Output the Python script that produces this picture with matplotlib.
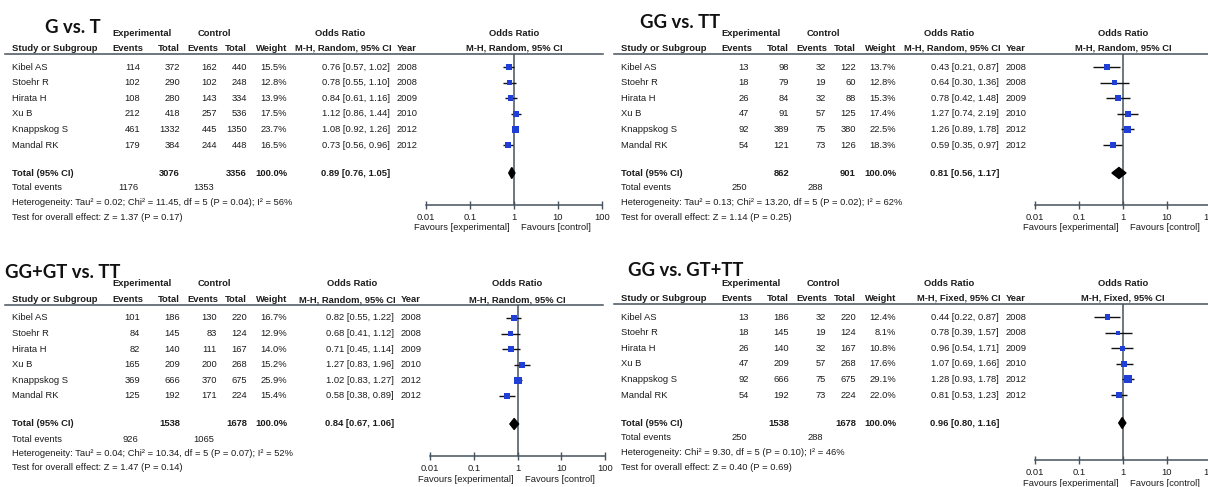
import matplotlib
matplotlib.use("Agg")
import matplotlib.pyplot as plt
import numpy as np

plt.rcParams['font.family'] = ['Liberation Sans', 'DejaVu Sans']

studies = ["Kibel AS", "Stoehr R", "Hirata H", "Xu B", "Knappskog S", "Mandal RK"]
years = [2008, 2008, 2009, 2010, 2012, 2012]

# G vs. T
gt_exp_events = [114, 102, 108, 212, 461, 179]
gt_exp_total = [372, 290, 280, 418, 1332, 384]
gt_ctl_events = [162, 102, 143, 257, 445, 244]
gt_ctl_total = [440, 248, 334, 536, 1350, 448]
gt_weight = [15.5, 12.8, 13.9, 17.5, 23.7, 16.5]
gt_or = [0.76, 0.78, 0.84, 1.12, 1.08, 0.73]
gt_lo = [0.57, 0.55, 0.61, 0.86, 0.92, 0.56]
gt_hi = [1.02, 1.10, 1.16, 1.44, 1.26, 0.96]
gt_sum = [3076, 3356, 0.89, 0.76, 1.05]
gt_events = [1176, 1353]
gt_het = "Heterogeneity: Tau² = 0.02; Chi² = 11.45, df = 5 (P = 0.04); I² = 56%"
gt_test = "Test for overall effect: Z = 1.37 (P = 0.17)"

# GG vs. TT
ggtt_exp_events = [13, 18, 26, 47, 92, 54]
ggtt_exp_total = [98, 79, 84, 91, 389, 121]
ggtt_ctl_events = [32, 19, 32, 57, 75, 73]
ggtt_ctl_total = [122, 60, 88, 125, 380, 126]
ggtt_weight = [13.7, 12.8, 15.3, 17.4, 22.5, 18.3]
ggtt_or = [0.43, 0.64, 0.78, 1.27, 1.26, 0.59]
ggtt_lo = [0.21, 0.30, 0.42, 0.74, 0.89, 0.35]
ggtt_hi = [0.87, 1.36, 1.48, 2.19, 1.78, 0.97]
ggtt_sum = [862, 901, 0.81, 0.56, 1.17]
ggtt_events = [250, 288]
ggtt_het = "Heterogeneity: Tau² = 0.13; Chi² = 13.20, df = 5 (P = 0.02); I² = 62%"
ggtt_test = "Test for overall effect: Z = 1.14 (P = 0.25)"

# GG+GT vs. TT
dom_exp_events = [101, 84, 82, 165, 369, 125]
dom_exp_total = [186, 145, 140, 209, 666, 192]
dom_ctl_events = [130, 83, 111, 200, 370, 171]
dom_ctl_total = [220, 124, 167, 268, 675, 224]
dom_weight = [16.7, 12.9, 14.0, 15.2, 25.9, 15.4]
dom_or = [0.82, 0.68, 0.71, 1.27, 1.02, 0.58]
dom_lo = [0.55, 0.41, 0.45, 0.83, 0.83, 0.38]
dom_hi = [1.22, 1.12, 1.14, 1.96, 1.27, 0.89]
dom_sum = [1538, 1678, 0.84, 0.67, 1.06]
dom_events = [926, 1065]
dom_het = "Heterogeneity: Tau² = 0.04; Chi² = 10.34, df = 5 (P = 0.07); I² = 52%"
dom_test = "Test for overall effect: Z = 1.47 (P = 0.14)"

# GG vs. GT+TT
rec_exp_events = [13, 18, 26, 47, 92, 54]
rec_exp_total = [186, 145, 140, 209, 666, 192]
rec_ctl_events = [32, 19, 32, 57, 75, 73]
rec_ctl_total = [220, 124, 167, 268, 675, 224]
rec_weight = [12.4, 8.1, 10.8, 17.6, 29.1, 22.0]
rec_or = [0.44, 0.78, 0.96, 1.07, 1.28, 0.81]
rec_lo = [0.22, 0.39, 0.54, 0.69, 0.93, 0.53]
rec_hi = [0.87, 1.57, 1.71, 1.66, 1.78, 1.23]
rec_sum = [1538, 1678, 0.96, 0.80, 1.16]
rec_events = [250, 288]
rec_het = "Heterogeneity: Chi² = 9.30, df = 5 (P = 0.10); I² = 46%"
rec_test = "Test for overall effect: Z = 0.40 (P = 0.69)"

tick_vals = [0.01, 0.1, 1, 10, 100]
tick_labels = ["0.01", "0.1", "1", "10", "100"]

W, H = 1208, 487
FS = 6.75
TXT = "#1c1c1c"
LINE = "#46525e"
BLUE = "#1f3fd6"

panels = [
    dict(title="G vs. T", method="M-H, Random, 95% CI", ox=0, oy=0, tx=45, ty=33,
         f0=426, f1=602, axis_y=204.5, orx=0,
         ee=gt_exp_events, et=gt_exp_total, ce=gt_ctl_events, ct=gt_ctl_total,
         w=gt_weight, orr=gt_or, lo=gt_lo, hi=gt_hi, tot=gt_sum, ev=gt_events,
         het=gt_het, test=gt_test),
    dict(title="GG vs. TT", method="M-H, Random, 95% CI", ox=609, oy=0, tx=640, ty=28,
         f0=1035, f1=1211, axis_y=205, orx=0,
         ee=ggtt_exp_events, et=ggtt_exp_total, ce=ggtt_ctl_events, ct=ggtt_ctl_total,
         w=ggtt_weight, orr=ggtt_or, lo=ggtt_lo, hi=ggtt_hi, tot=ggtt_sum, ev=ggtt_events,
         het=ggtt_het, test=ggtt_test),
    dict(title="GG+GT vs. TT", method="M-H, Random, 95% CI", ox=0, oy=251, tx=5, ty=278,
         f0=430, f1=605, axis_y=456, orx=4,
         ee=dom_exp_events, et=dom_exp_total, ce=dom_ctl_events, ct=dom_ctl_total,
         w=dom_weight, orr=dom_or, lo=dom_lo, hi=dom_hi, tot=dom_sum, ev=dom_events,
         het=dom_het, test=dom_test),
    dict(title="GG vs. GT+TT", method="M-H, Fixed, 95% CI", ox=609, oy=250, tx=628, ty=276,
         f0=1035, f1=1211, axis_y=460, orx=0,
         ee=rec_exp_events, et=rec_exp_total, ce=rec_ctl_events, ct=rec_ctl_total,
         w=rec_weight, orr=rec_or, lo=rec_lo, hi=rec_hi, tot=rec_sum, ev=rec_events,
         het=rec_het, test=rec_test),
]

fig = plt.figure(figsize=(W / 100, H / 100), dpi=100)
tax = fig.add_axes([0, 0, 1, 1])
tax.set_xlim(0, W)
tax.set_ylim(H, 0)
tax.axis("off")


def t(x, y, s, ha="left", bold=False, size=FS, **kw):
    tax.text(x, y, s, ha=ha, va="center", fontsize=size,
             fontweight="bold" if bold else "normal", color=TXT, **kw)


def fmt_ci(o, l, h):
    return f"{o:.2f} [{l:.2f}, {h:.2f}]"


for p in panels:
    ox, oy, orx = p["ox"], p["oy"], p["orx"]
    rows = [oy + 67 + 15.6 * i for i in range(len(studies))]
    y_tot = oy + 173
    top = oy + 53.5

    tax.text(p["tx"], p["ty"], p["title"], ha="left", va="baseline", fontsize=13.3,
             fontweight="bold", family="Lato", color="#111111")

    # header rows
    t(ox + 142, oy + 33, "Experimental", ha="center", bold=True)
    t(ox + 214, oy + 33, "Control", ha="center", bold=True)
    t(ox + 340 + orx * 3, oy + 33, "Odds Ratio", ha="center", bold=True)
    fc = (p["f0"] + p["f1"]) / 2
    t(fc, oy + 33, "Odds Ratio", ha="center", bold=True)
    hy = oy + 48.5
    t(ox + 12, hy, "Study or Subgroup", bold=True)
    t(ox + 143, hy, "Events", ha="right", bold=True)
    t(ox + 180, hy, "Total", ha="right", bold=True)
    t(ox + 218, hy, "Events", ha="right", bold=True)
    t(ox + 247, hy, "Total", ha="right", bold=True)
    t(ox + 287, hy, "Weight", ha="right", bold=True)
    t(ox + 392 + orx, hy, p["method"], ha="right", bold=True)
    t(ox + 397 + orx, hy, "Year", bold=True)
    t(fc, hy, p["method"], ha="center", bold=True)
    tax.plot([ox + 5, ox + 603], [top, top], color=LINE, lw=1.1)

    for i, name in enumerate(studies):
        y = rows[i]
        t(ox + 12, y, name)
        t(ox + 140, y, str(p["ee"][i]), ha="right")
        t(ox + 180, y, str(p["et"][i]), ha="right")
        t(ox + 217, y, str(p["ce"][i]), ha="right")
        t(ox + 247, y, str(p["ct"][i]), ha="right")
        t(ox + 287, y, f"{p['w'][i]:.1f}%", ha="right")
        t(ox + 390 + orx, y, fmt_ci(p["orr"][i], p["lo"][i], p["hi"][i]), ha="right")
        t(ox + 397 + orx, y, str(years[i]))

    tot = p["tot"]
    t(ox + 12, y_tot, "Total (95% CI)", bold=True)
    t(ox + 180, y_tot, str(tot[0]), ha="right", bold=True)
    t(ox + 247, y_tot, str(tot[1]), ha="right", bold=True)
    t(ox + 287, y_tot, "100.0%", ha="right", bold=True)
    t(ox + 390 + orx, y_tot, fmt_ci(tot[2], tot[3], tot[4]), ha="right", bold=True)
    t(ox + 12, oy + 188, "Total events")
    t(ox + 138, oy + 188, str(p["ev"][0]), ha="right")
    t(ox + 214, oy + 188, str(p["ev"][1]), ha="right")
    t(ox + 12, oy + 202.5, p["het"])
    t(ox + 12, oy + 217, p["test"])

    # forest plot
    ay = p["axis_y"]
    fax = fig.add_axes([p["f0"] / W, 1 - ay / H, (p["f1"] - p["f0"]) / W, (ay - top) / H])
    fax.patch.set_alpha(0)
    fax.set_xscale("log")
    fax.set_xlim(0.01, 100)
    fax.set_ylim(ay, top)
    for s in ["top", "right", "left"]:
        fax.spines[s].set_visible(False)
    fax.spines["bottom"].set_color(LINE)
    fax.spines["bottom"].set_linewidth(1.1)
    fax.set_yticks([])
    fax.set_xticks(tick_vals)
    fax.set_xticklabels(tick_labels)
    fax.minorticks_off()
    fax.tick_params(axis="x", direction="inout", length=6, width=1, color=LINE,
                    labelsize=FS, labelcolor=TXT, pad=3)
    fax.axvline(1, color=LINE, lw=1.1, zorder=1)
    fax.hlines(rows, p["lo"], p["hi"], color="#111111", lw=1.0, zorder=2)
    sizes = [(1.45 * np.sqrt(wt) * 0.72) ** 2 for wt in p["w"]]
    fax.scatter(p["orr"], rows, s=sizes, marker="s", color=BLUE, zorder=3, linewidths=0)
    dh = 5.5
    fax.fill([tot[3], tot[2], tot[4], tot[2]], [y_tot, y_tot - dh, y_tot, y_tot + dh],
             color="#000000", zorder=3)
    fy = ay + 23
    t(p["f0"] + 0.205 * (p["f1"] - p["f0"]), fy, "Favours [experimental]", ha="center")
    t(p["f0"] + 0.74 * (p["f1"] - p["f0"]), fy, "Favours [control]", ha="center")

fig.savefig("out.png", dpi=100)
